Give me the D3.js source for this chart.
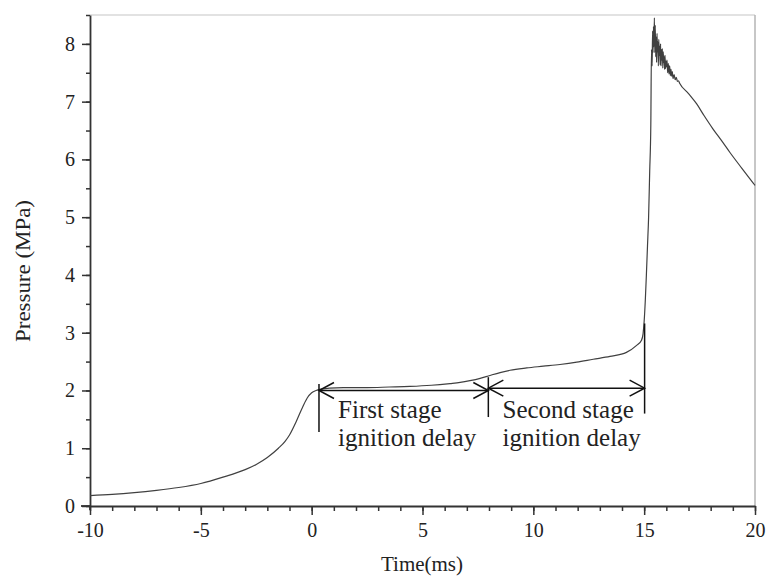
<!DOCTYPE html>
<html>
<head>
<meta charset="utf-8">
<script src="https://cdn.jsdelivr.net/npm/d3@7"></script>
<style>
  html, body { margin: 0; padding: 0; background: #fff; }
  svg { display: block; }
  text { font-family: "Liberation Serif", "Times New Roman", serif; fill: #222; }
</style>
</head>
<body>
<svg id="chart" width="768" height="576"></svg>
<script>
// Pressure trace: time (ms) and pressure (MPa)
const timeMs = [
  -10.0, -9.0, -8.0, -7.0, -6.0, -5.0, -4.0, -3.0, -2.5, -2.0, -1.5, -1.2, -1.0, -0.7, -0.4, -0.2, 0.0, 0.2, 0.37,
  0.8, 1.43, 2.5, 3.5, 4.43, 5.4, 6.24, 6.7, 7.14, 7.6, 8.04, 8.5, 8.95, 9.7, 10.45, 11.2, 11.96, 12.7, 13.46, 14.2, 14.66, 14.88,
  14.95, 15.0, 15.05, 15.1, 15.15, 15.2, 15.25, 15.3, 15.33,
  15.36, 15.38, 15.40, 15.42, 15.44, 15.46, 15.48, 15.50, 15.52, 15.54, 15.56, 15.58, 15.60, 15.62, 15.64, 15.66,
  15.68, 15.70, 15.72, 15.74, 15.76, 15.78, 15.80, 15.82, 15.84, 15.86, 15.88, 15.90, 15.92, 15.94, 15.96, 15.98,
  16.00, 16.03, 16.06, 16.09, 16.12, 16.15, 16.18, 16.21, 16.24, 16.27, 16.30, 16.35, 16.40, 16.45, 16.50, 16.55, 16.60,
  17.0, 17.37, 17.7, 18.1, 18.5, 18.87, 19.4, 19.92, 20.0
];
const pressureMPa = [
  0.18, 0.20, 0.23, 0.27, 0.32, 0.39, 0.50, 0.63, 0.72, 0.84, 1.00, 1.12, 1.23, 1.46, 1.72, 1.87, 1.96, 2.00, 2.02,
  2.04, 2.05, 2.05, 2.06, 2.07, 2.09, 2.12, 2.14, 2.17, 2.21, 2.26, 2.31, 2.35, 2.39, 2.42, 2.45, 2.49, 2.54, 2.59, 2.66, 2.78, 2.87,
  2.98, 3.20, 3.55, 4.00, 4.50, 5.00, 5.80, 6.60, 7.90,
  7.62, 8.22, 7.85, 8.30, 7.95, 8.45, 7.85, 8.32, 7.78, 8.12, 7.68, 8.18, 7.86, 8.04, 7.62, 8.08,
  7.80, 7.96, 7.64, 8.00, 7.62, 7.90, 7.72, 7.92, 7.58, 7.86, 7.68, 7.78, 7.56, 7.80, 7.57, 7.70,
  7.60, 7.72, 7.50, 7.66, 7.48, 7.62, 7.45, 7.56, 7.44, 7.52, 7.40, 7.47, 7.38, 7.42, 7.35, 7.36, 7.32,
  7.14, 6.96, 6.76, 6.53, 6.32, 6.12, 5.85, 5.59, 5.55
];

// Axis ticks
const xMajorTicks = [-10, -5, 0, 5, 10, 15, 20];
const xMinorTicks = d3.range(-10, 21, 1);
const yMajorTicks = [0, 1, 2, 3, 4, 5, 6, 7, 8];
const yMinorTicks = d3.range(0, 8.51, 0.5);

// Stage markers (vertical bars) and the delay arrows between them
const markerTimes = [0.33, 7.97, 15.02];
const markerTop = [2.11, 2.23, 3.16];
const markerBottom = [1.28, 1.54, 1.60];
const arrowStart = [0.33, 7.97];
const arrowEnd = [7.97, 15.02];
const arrowLevel = [2.00, 2.04];
const labelLines = [["First stage", "ignition delay"], ["Second stage", "ignition delay"]];
const labelTime = [1.19, 8.61];

const svg = d3.select("#chart");
const plotLeft = 90, plotRight = 755, plotTop = 15, plotBottom = 506;

const x = d3.scaleLinear().domain([-10, 20]).range([plotLeft, plotRight]);
const y = d3.scaleLinear().domain([0, 8.5]).range([plotBottom, plotTop]);

// Frame on top and right
svg.append("line").attr("x1", plotLeft).attr("x2", plotRight).attr("y1", plotTop).attr("y2", plotTop)
  .attr("stroke", "#d8d8d8").attr("stroke-width", 1.5);
svg.append("line").attr("x1", plotRight).attr("x2", plotRight).attr("y1", plotTop).attr("y2", plotBottom)
  .attr("stroke", "#b5b5b5").attr("stroke-width", 1.5);

// Minor ticks
svg.append("g").attr("transform", `translate(0,${plotBottom})`)
  .call(d3.axisBottom(x).tickValues(xMinorTicks).tickSize(5).tickSizeOuter(0).tickFormat(""))
  .call(g => g.select(".domain").remove())
  .call(g => g.selectAll("line").attr("stroke", "#333").attr("stroke-width", 1.5));
svg.append("g").attr("transform", `translate(${plotLeft},0)`)
  .call(d3.axisLeft(y).tickValues(yMinorTicks).tickSize(4).tickSizeOuter(0).tickFormat(""))
  .call(g => g.select(".domain").remove())
  .call(g => g.selectAll("line").attr("stroke", "#333").attr("stroke-width", 1.5));

// Major axes
const xAxis = svg.append("g").attr("transform", `translate(0,${plotBottom})`)
  .call(d3.axisBottom(x).tickValues(xMajorTicks).tickSize(9).tickSizeOuter(0).tickPadding(8).tickFormat(d3.format("d")));
const yAxis = svg.append("g").attr("transform", `translate(${plotLeft},0)`)
  .call(d3.axisLeft(y).tickValues(yMajorTicks).tickSize(8).tickSizeOuter(0).tickPadding(7).tickFormat(d3.format("d")));
[xAxis, yAxis].forEach(a => {
  a.select(".domain").attr("stroke", "#333").attr("stroke-width", 1.8);
  a.selectAll(".tick line").attr("stroke", "#333").attr("stroke-width", 1.5);
  a.selectAll(".tick text").style("font-family", '"Liberation Serif", serif')
    .style("font-size", "20px").attr("fill", "#222");
});
xAxis.selectAll(".tick text").text(d => d < 0 ? "-" + Math.abs(d) : d);
// extend axis lines slightly past the origin
svg.append("line").attr("x1", plotLeft - 9).attr("x2", plotLeft).attr("y1", plotBottom).attr("y2", plotBottom)
  .attr("stroke", "#333").attr("stroke-width", 1.8);
svg.append("line").attr("x1", plotLeft).attr("x2", plotLeft).attr("y1", plotBottom).attr("y2", plotBottom + 4)
  .attr("stroke", "#333").attr("stroke-width", 1.8);

// Axis titles
svg.append("text").attr("x", 422).attr("y", 571).attr("text-anchor", "middle")
  .style("font-size", "21px").text("Time(ms)");
svg.append("text").attr("transform", "translate(30,271) rotate(-90)")
  .attr("text-anchor", "middle").style("font-size", "21px")
  .attr("textLength", 142).attr("lengthAdjust", "spacingAndGlyphs")
  .text("Pressure (MPa)");

// Pressure curve
const pts = timeMs.map((t, i) => [t, pressureMPa[i]]);
svg.append("path").datum(pts)
  .attr("fill", "none").attr("stroke", "#404040").attr("stroke-width", 1.2)
  .attr("stroke-linejoin", "round")
  .attr("d", d3.line().curve(d3.curveMonotoneX).x(d => x(d[0])).y(d => y(d[1])));

// Stage markers
const ann = svg.append("g").attr("stroke", "#111").attr("stroke-width", 1.5).attr("fill", "none");
markerTimes.forEach((t, i) => {
  ann.append("line").attr("x1", x(t)).attr("x2", x(t))
    .attr("y1", y(markerTop[i])).attr("y2", y(markerBottom[i]));
});

// Double-headed arrows
const headLen = 15, headHalf = 8;
arrowStart.forEach((t0, i) => {
  const x0 = x(t0), x1 = x(arrowEnd[i]), yy = y(arrowLevel[i]);
  ann.append("line").attr("x1", x0).attr("x2", x1).attr("y1", yy).attr("y2", yy);
  ann.append("path").attr("d", `M${x0 + headLen},${yy - headHalf}L${x0},${yy}L${x0 + headLen},${yy + headHalf}`);
  ann.append("path").attr("d", `M${x1 - headLen},${yy - headHalf}L${x1},${yy}L${x1 - headLen},${yy + headHalf}`);
});

// Stage labels
labelLines.forEach((lines, i) => {
  const tx = svg.append("text").attr("x", x(labelTime[i])).attr("y", 418)
    .style("font-size", "25px").attr("fill", "#111");
  lines.forEach((s, j) => {
    tx.append("tspan").attr("x", x(labelTime[i])).attr("y", 418 + j * 28).text(s);
  });
});
</script>
</body>
</html>
